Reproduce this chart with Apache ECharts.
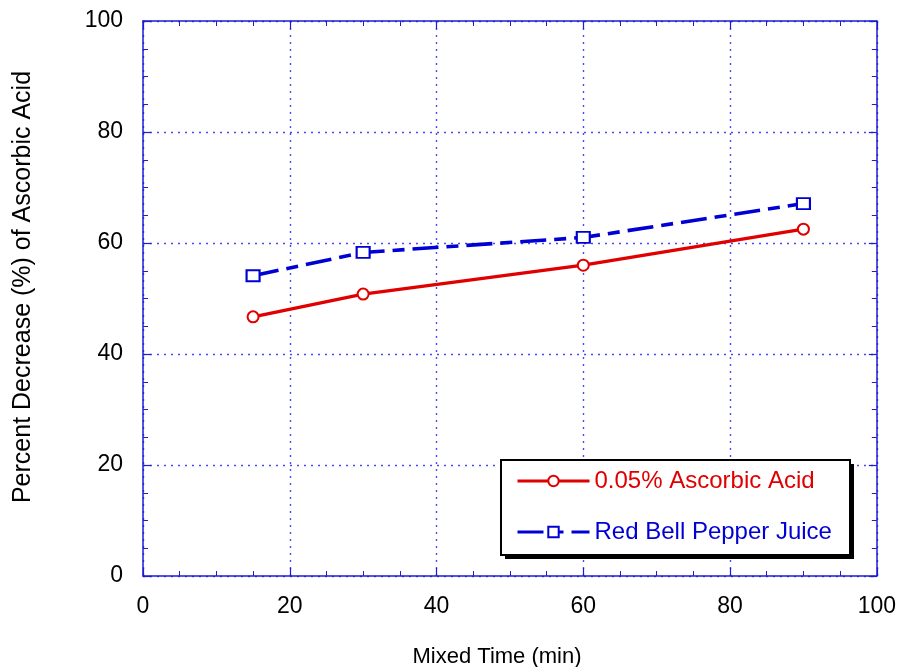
<!DOCTYPE html>
<html>
<head>
<meta charset="utf-8">
<script src="https://cdn.jsdelivr.net/npm/echarts@6/dist/echarts.min.js"></script>
<style>
  html, body { margin: 0; padding: 0; background: #ffffff; }
  #chart { width: 899px; height: 667px; }
</style>
</head>
<body>
<div id="chart"></div>
<script>
// Mixing time (min) and percent decrease of ascorbic acid
const mixTimes = [15, 30, 60, 90];
const ascorbicAcid = [46.7, 50.8, 56.0, 62.5];
const pepperJuice = [54.1, 58.3, 61.0, 67.1];
const seriesNames = ['0.05% Ascorbic Acid', 'Red Bell Pepper Juice'];
const xTitle = 'Mixed Time (min)';
const yTitle = 'Percent Decrease (%) of Ascorbic Acid';

const FONT = '"Liberation Sans", Arial, sans-serif';
const AXIS_BLUE = '#1c1cd2';
const GRID_BLUE = '#4a4aee';
const RED = '#e00000';
const BLUE = '#0000d4';

const toPairs = (xs, ys) => xs.map((x, i) => [x, ys[i]]);

function axisBase(extra) {
  return Object.assign({
    type: 'value',
    min: 0,
    max: 100,
    interval: 20,
    axisLine: { show: true, onZero: false, lineStyle: { color: AXIS_BLUE, width: 1.5 } },
    axisTick: { show: true, inside: true, length: 8, lineStyle: { color: AXIS_BLUE, width: 1.2 } },
    minorTick: { show: true, splitNumber: 4, length: 5, lineStyle: { color: AXIS_BLUE, width: 1 } },
    splitLine: { show: false },
    axisLabel: { show: false }
  }, extra);
}

const chart = echarts.init(document.getElementById('chart'), null, { renderer: 'canvas' });

chart.setOption({
  animation: false,
  backgroundColor: '#ffffff',
  grid: { left: 143, right: 20, top: 21, bottom: 91, containLabel: false },
  xAxis: [
    axisBase({
      position: 'bottom',
      splitLine: { show: true, lineStyle: { color: GRID_BLUE, width: 1.4, type: [2, 5] } },
      axisLabel: { show: true, margin: 19, fontSize: 23, color: '#000', fontFamily: FONT }
    }),
    axisBase({ position: 'top' })
  ],
  yAxis: [
    axisBase({
      position: 'left',
      splitLine: { show: true, lineStyle: { color: GRID_BLUE, width: 1.4, type: [2, 5] } },
      axisLabel: { show: true, margin: 20, fontSize: 23, color: '#000', fontFamily: FONT }
    }),
    axisBase({ position: 'right' })
  ],
  legend: {
    orient: 'vertical',
    left: 516,
    top: 469,
    itemWidth: 72,
    itemHeight: 13,
    itemGap: 27,
    padding: 0,
    lineStyle: { width: 3 },
    textStyle: { fontSize: 24, fontFamily: FONT },
    data: [
      { name: seriesNames[0], textStyle: { color: RED } },
      { name: seriesNames[1], textStyle: { color: BLUE } }
    ]
  },
  graphic: [
    {
      type: 'rect', z: 3,
      shape: { x: 505, y: 464, width: 349, height: 95 },
      style: { fill: '#000' }
    },
    {
      type: 'rect', z: 3,
      shape: { x: 501, y: 460, width: 349, height: 95 },
      style: { fill: '#fff', stroke: '#000', lineWidth: 2 }
    },
    {
      type: 'text', z: 5,
      x: 497, y: 657,
      style: { text: xTitle, font: '22px ' + FONT, fill: '#000', align: 'center', verticalAlign: 'middle' }
    },
    {
      type: 'text', z: 5,
      x: 23, y: 287, rotation: Math.PI / 2,
      style: { text: yTitle, font: '25px ' + FONT, fill: '#000', align: 'center', verticalAlign: 'middle' }
    }
  ],
  series: [
    {
      name: seriesNames[0],
      type: 'line',
      xAxisIndex: 0, yAxisIndex: 0,
      data: toPairs(mixTimes, ascorbicAcid),
      symbol: 'emptyCircle',
      symbolSize: 11,
      lineStyle: { color: RED, width: 3.3 },
      itemStyle: { color: RED, borderColor: RED, borderWidth: 1.2 },
      z: 2
    },
    {
      name: seriesNames[1],
      type: 'line',
      xAxisIndex: 0, yAxisIndex: 0,
      data: toPairs(mixTimes, pepperJuice),
      symbol: 'emptyRect',
      symbolSize: [13, 11],
      lineStyle: { color: BLUE, width: 3.6, type: [26, 8, 12, 8] },
      itemStyle: { color: BLUE, borderColor: BLUE, borderWidth: 1.2 },
      z: 2
    }
  ]
});
</script>
</body>
</html>
